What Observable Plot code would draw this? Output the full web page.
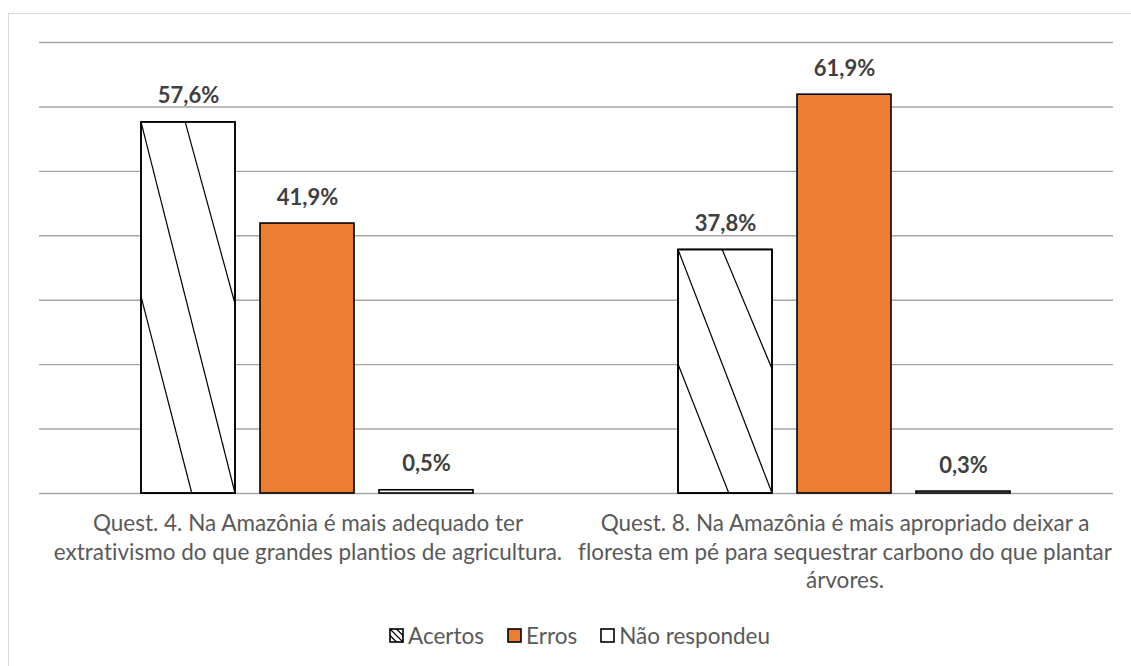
<!DOCTYPE html>
<html>
<head>
<meta charset="utf-8">
<script src="https://cdn.jsdelivr.net/npm/d3@7"></script>
<script src="https://cdn.jsdelivr.net/npm/@observablehq/plot@0.6"></script>
<style>
  html, body { margin: 0; padding: 0; background: #fff; overflow: hidden; }
  body { width: 1131px; height: 666px; position: relative; font-family: Lato, "Open Sans", sans-serif; font-variant-ligatures: none; }
  svg text { font-variant-ligatures: none; }
  #frame { position: absolute; left: 8px; top: 13px; width: 1140px; height: 700px; border: 1px solid #d9d9d9; box-sizing: border-box; }
  #chart { position: absolute; left: 0; top: 0; }
  #legend { position: absolute; left: 389px; top: 622px; display: flex; align-items: center; font-size: 22.5px; color: #595959; white-space: nowrap; }
  #legend .item { display: flex; align-items: center; margin-right: 23px; }
  #legend svg { margin-right: 4px; }
</style>
</head>
<body>
<div id="frame"></div>
<div id="chart"></div>
<div id="legend"></div>
<script>
const questions = [
  "Quest. 4. Na Amazônia é mais adequado ter\nextrativismo do que grandes plantios de agricultura.",
  "Quest. 8. Na Amazônia é mais apropriado deixar a\nfloresta em pé para sequestrar carbono do que plantar\nárvores."
];
const series = ["Acertos", "Erros", "Não respondeu"];
const q4Values = [57.6, 41.9, 0.5];
const q8Values = [37.8, 61.9, 0.3];
const seriesColors = ["#ffffff", "#ED7D31", "#ffffff"];
const yTicks = [0, 10, 20, 30, 40, 50, 60, 70];

const data = [];
[q4Values, q8Values].forEach((vals, qi) => {
  vals.forEach((v, si) => data.push({question: questions[qi], series: series[si], value: v}));
});
const fmt = v => v.toFixed(1).replace(".", ",") + "%";

function hatch(index, scales, values, dims, context, next) {
  const g = next(index, scales, values, dims, context);
  const ns = "http://www.w3.org/2000/svg";
  g.querySelectorAll("rect").forEach(r => {
    const x = +r.getAttribute("x"), y = +r.getAttribute("y");
    const w = +r.getAttribute("width"), h = +r.getAttribute("height");
    const segs = [[x, y, x + w, y + h], [x + w * 0.47, y, x + w, y + h * 0.49], [x, y + h * 0.47, x + w * 0.54, y + h]];
    segs.forEach(([x1, y1, x2, y2]) => {
      const l = document.createElementNS(ns, "line");
      l.setAttribute("x1", x1); l.setAttribute("y1", y1);
      l.setAttribute("x2", x2); l.setAttribute("y2", y2);
      l.setAttribute("stroke", "black"); l.setAttribute("stroke-width", "1.2");
      r.parentNode.insertBefore(l, r);
    });
  });
  return g;
}

const chart = Plot.plot({
  width: 1131,
  height: 610,
  marginTop: 42,
  marginBottom: 117,
  marginLeft: 38,
  marginRight: 18,
  style: {fontFamily: "Lato, 'Open Sans', sans-serif", background: "transparent"},
  fx: {domain: questions, padding: 0, axis: null},
  x: {domain: series, paddingInner: 0.21, paddingOuter: 0.86, axis: null},
  y: {domain: [0, 70], axis: null},
  color: {domain: series, range: seriesColors},
  marks: [
    Plot.ruleY(yTicks, {stroke: "#a6a6a6", strokeWidth: 1.4}),
    Plot.barY(data, {fx: "question", x: "series", y: "value", fill: "series", stroke: "black", strokeWidth: 1.6}),
    Plot.barY(data.filter(d => d.series === series[0]), {fx: "question", x: "series", y: "value", fill: "none", stroke: "black", strokeWidth: 1.6, render: hatch}),
    Plot.text(data, {fx: "question", x: "series", y: "value", text: d => fmt(d.value), dy: -26, fontSize: 22, fontWeight: "bold", fill: "#404040"}),
    Plot.text(questions, {fx: d => d, text: d => d, frameAnchor: "bottom", lineAnchor: "top", dy: 18, fontSize: 22.5, lineHeight: 1.25, fill: "#595959"})
  ]
});
document.getElementById("chart").appendChild(chart);

const legend = document.getElementById("legend");
series.forEach((s, i) => {
  const item = document.createElement("div");
  item.className = "item";
  let sw = `<svg width="15" height="15"><rect x="1" y="1" width="13" height="13" fill="${seriesColors[i]}" stroke="black" stroke-width="1.6"/>`;
  if (i === 0) sw += `<line x1="1" y1="1" x2="14" y2="14" stroke="black" stroke-width="1.2"/><line x1="7.5" y1="1" x2="14" y2="7.5" stroke="black" stroke-width="1.2"/><line x1="1" y1="7.5" x2="7.5" y2="14" stroke="black" stroke-width="1.2"/>`;
  sw += `</svg>`;
  item.innerHTML = sw + `<span>${s}</span>`;
  legend.appendChild(item);
});
</script>
</body>
</html>
